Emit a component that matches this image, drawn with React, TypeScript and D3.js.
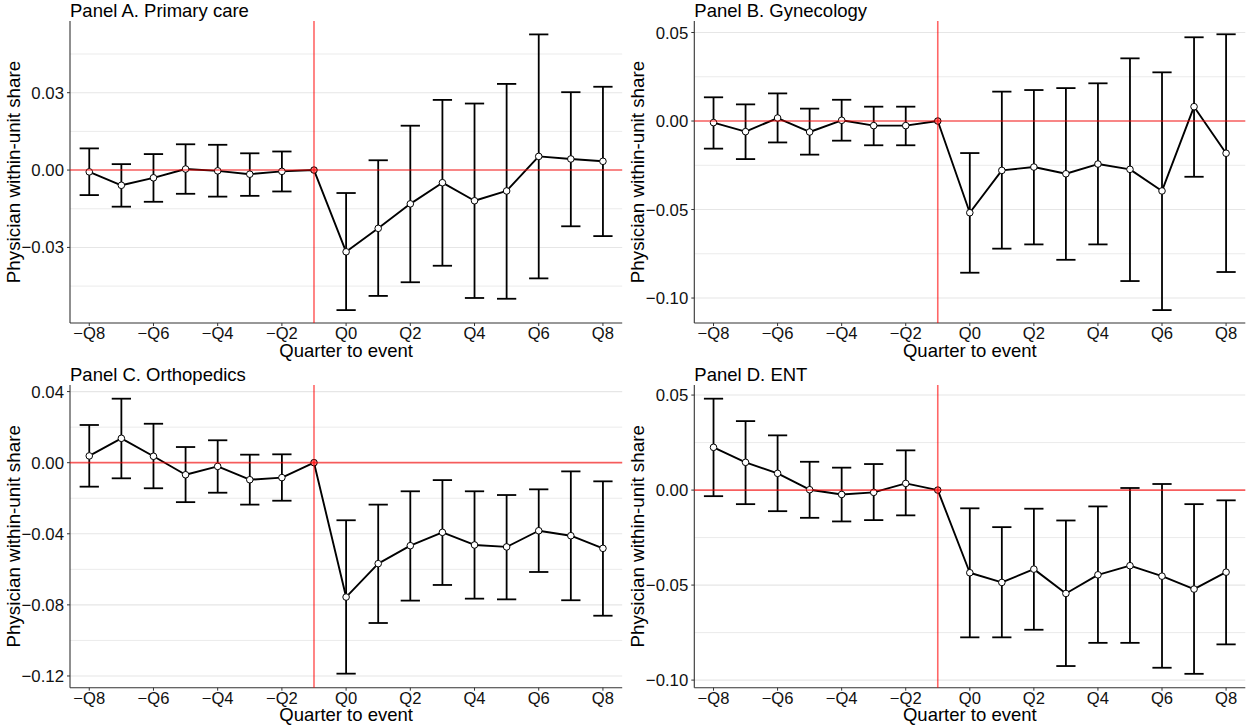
import React from "react";
import * as d3 from "d3";

const quarters = [-8, -7, -6, -5, -4, -3, -2, -1, 0, 1, 2, 3, 4, 5, 6, 7, 8];
const labeledQuarters = [-8, -6, -4, -2, 0, 2, 4, 6, 8];
const refQuarter = -1;

// Panel A. Primary care
const primaryEst = [-0.0007, -0.0059, -0.003, 0.0004, -0.0003, -0.0016, -0.0005, 0, -0.0317, -0.0226, -0.0131, -0.0049, -0.0119, -0.0081, 0.0053, 0.0043, 0.0034];
const primaryHi = [0.0084, 0.0023, 0.0062, 0.01, 0.0098, 0.0065, 0.0072, 0, -0.0089, 0.0038, 0.0172, 0.0272, 0.0258, 0.0334, 0.0526, 0.0302, 0.0323];
const primaryLo = [-0.0097, -0.0142, -0.0123, -0.0092, -0.0103, -0.01, -0.0083, 0, -0.0543, -0.0488, -0.0435, -0.0371, -0.0496, -0.0499, -0.042, -0.0218, -0.0256];

// Panel B. Gynecology
const gynEst = [-0.0009, -0.006, 0.0017, -0.0062, 0.0004, -0.0026, -0.0026, 0, -0.0518, -0.0279, -0.026, -0.0298, -0.0243, -0.0273, -0.0395, 0.0081, -0.0182];
const gynHi = [0.0134, 0.0094, 0.0156, 0.007, 0.012, 0.0081, 0.0081, 0, -0.0181, 0.0166, 0.0175, 0.0186, 0.0213, 0.0354, 0.0275, 0.0473, 0.049];
const gynLo = [-0.0156, -0.0215, -0.0121, -0.019, -0.0111, -0.0137, -0.0137, 0, -0.0857, -0.0721, -0.0697, -0.0784, -0.0697, -0.0904, -0.1068, -0.0315, -0.0853];

// Panel C. Orthopedics
const orthoEst = [0.0038, 0.0137, 0.0036, -0.0068, -0.0021, -0.0096, -0.0084, 0, -0.0756, -0.0568, -0.0467, -0.0392, -0.0463, -0.0474, -0.0383, -0.0411, -0.0482];
const orthoHi = [0.0212, 0.036, 0.0219, 0.0088, 0.0126, 0.0045, 0.0047, 0, -0.0324, -0.0236, -0.0161, -0.0098, -0.0161, -0.0182, -0.015, -0.0049, -0.0105];
const orthoLo = [-0.0135, -0.0088, -0.0144, -0.0222, -0.0169, -0.0236, -0.0214, 0, -0.1187, -0.0902, -0.0776, -0.0688, -0.0765, -0.0769, -0.0615, -0.0774, -0.0861];

// Panel D. ENT
const entEst = [0.0225, 0.0146, 0.0088, 0.0002, -0.0023, -0.0012, 0.0035, 0, -0.0435, -0.0486, -0.0416, -0.0544, -0.0446, -0.0398, -0.0453, -0.0521, -0.0432];
const entHi = [0.0481, 0.0363, 0.0288, 0.0149, 0.0118, 0.0137, 0.0209, 0, -0.0096, -0.0195, -0.0098, -0.016, -0.0086, 0.0011, 0.0032, -0.0074, -0.0054];
const entLo = [-0.0032, -0.0074, -0.0111, -0.0146, -0.0165, -0.0158, -0.0133, 0, -0.0775, -0.0775, -0.0735, -0.0926, -0.0804, -0.0804, -0.0935, -0.0967, -0.0812];

const primaryTicks = [-0.03, 0, 0.03];
const primaryMinor = [-0.045, -0.015, 0.015, 0.045];
const gynTicks = [-0.1, -0.05, 0, 0.05];
const gynMinor = [-0.075, -0.025, 0.025];
const orthoTicks = [-0.12, -0.08, -0.04, 0, 0.04];
const orthoMinor = [-0.1, -0.06, -0.02, 0.02];
const entTicks = [-0.1, -0.05, 0, 0.05];
const entMinor = [-0.075, -0.025, 0.025];

const FONT = "'Liberation Sans', Arial, Helvetica, sans-serif";

function qLabel(q: number) {
  return q < 0 ? "\u2212Q" + Math.abs(q) : "Q" + q;
}
function yLabel(v: number) {
  const s = Math.abs(v).toFixed(2);
  return v < 0 ? "\u2212" + s : s;
}

type PanelProps = {
  title: string;
  est: number[];
  hi: number[];
  lo: number[];
  domain: [number, number];
  ticks: number[];
  minor: number[];
  left: number;
  right: number;
  top: number;
  bottom: number;
};

function Panel(p: PanelProps) {
  const x = d3
    .scalePoint<number>()
    .domain(quarters)
    .range([p.left, p.right])
    .padding(0.6);
  const y = d3.scaleLinear().domain(p.domain).range([p.bottom, p.top]);
  const step = x.step();
  const cap = step * 0.3;
  const line = d3
    .line<number>()
    .x((_, i) => x(quarters[i]) as number)
    .y((d) => y(d));
  const midY = (p.top + p.bottom) / 2;
  const midX = (p.left + p.right) / 2;
  const red = "#ff0000";
  return (
    <g>
      <text x={p.left} y={p.top - 4} fontSize={18.5} fontFamily={FONT} fill="#000">
        {p.title}
      </text>
      {p.minor.map((v) => (
        <line key={"mi" + v} x1={p.left} x2={p.right} y1={y(v)} y2={y(v)} stroke="#ebebeb" strokeWidth={1} />
      ))}
      {p.ticks.map((v) => (
        <line key={"ma" + v} x1={p.left} x2={p.right} y1={y(v)} y2={y(v)} stroke="#e6e6e6" strokeWidth={1.1} />
      ))}
      <line x1={p.left} x2={p.left} y1={p.top} y2={p.bottom} stroke="#333" strokeWidth={1.1} />
      <line x1={p.left} x2={p.right} y1={p.bottom} y2={p.bottom} stroke="#333" strokeWidth={1.1} />
      {p.ticks.map((v) => (
        <g key={"yt" + v}>
          <line x1={p.left - 3} x2={p.left} y1={y(v)} y2={y(v)} stroke="#333" strokeWidth={1} />
          <text
            x={p.left - 6}
            y={y(v)}
            dy="0.36em"
            textAnchor="end"
            fontSize={16.8}
            fontFamily={FONT}
            fill="#111"
          >
            {yLabel(v)}
          </text>
        </g>
      ))}
      {labeledQuarters.map((q) => (
        <g key={"xt" + q}>
          <line x1={x(q)} x2={x(q)} y1={p.bottom} y2={p.bottom + 3} stroke="#333" strokeWidth={1} />
          <text
            x={x(q)}
            y={p.bottom + 16}
            textAnchor="middle"
            fontSize={16.6}
            fontFamily={FONT}
            fill="#111"
          >
            {qLabel(q)}
          </text>
        </g>
      ))}
      <text
        x={midX}
        y={p.bottom + 33.5}
        textAnchor="middle"
        fontSize={18.5}
        fontFamily={FONT}
        fill="#000"
      >
        Quarter to event
      </text>
      <text
        transform={`translate(${p.left - 50},${midY}) rotate(-90)`}
        textAnchor="middle"
        fontSize={18.8}
        fontFamily={FONT}
        fill="#000"
      >
        Physician within-unit share
      </text>
      {quarters.map((q, i) =>
        q === refQuarter ? null : (
          <g key={"eb" + q} stroke="#000" strokeWidth={1.8}>
            <line x1={x(q)} x2={x(q)} y1={y(p.hi[i])} y2={y(p.lo[i])} />
            <line x1={(x(q) as number) - cap} x2={(x(q) as number) + cap} y1={y(p.hi[i])} y2={y(p.hi[i])} />
            <line x1={(x(q) as number) - cap} x2={(x(q) as number) + cap} y1={y(p.lo[i])} y2={y(p.lo[i])} />
          </g>
        )
      )}
      <path d={line(p.est) || ""} fill="none" stroke="#000" strokeWidth={1.9} strokeLinejoin="round" />
      {quarters.map((q, i) => (
        <circle
          key={"pt" + q}
          cx={x(q)}
          cy={y(p.est[i])}
          r={3.3}
          fill={q === refQuarter ? "#ff8080" : "#fff"}
          stroke="#000"
          strokeWidth={1}
        />
      ))}
      <line x1={p.left} x2={p.right} y1={y(0)} y2={y(0)} stroke={red} strokeOpacity={0.6} strokeWidth={1.6} />
      <line
        x1={x(refQuarter)}
        x2={x(refQuarter)}
        y1={p.top}
        y2={p.bottom}
        stroke={red}
        strokeOpacity={0.6}
        strokeWidth={1.6}
      />
    </g>
  );
}

export default function App() {
  return (
    <svg
      width={1250}
      height={726}
      style={{ position: "absolute", left: 0, top: 0, background: "#fff" }}
    >
      <rect width={1250} height={726} fill="#fff" />
      <Panel
        title="Panel A. Primary care"
        est={primaryEst}
        hi={primaryHi}
        lo={primaryLo}
        domain={[-0.0593, 0.0578]}
        ticks={primaryTicks}
        minor={primaryMinor}
        left={70}
        right={622.2}
        top={21}
        bottom={323}
      />
      <Panel
        title="Panel B. Gynecology"
        est={gynEst}
        hi={gynHi}
        lo={gynLo}
        domain={[-0.1141, 0.0565]}
        ticks={gynTicks}
        minor={gynMinor}
        left={694.3}
        right={1245.3}
        top={21}
        bottom={323}
      />
      <Panel
        title="Panel C. Orthopedics"
        est={orthoEst}
        hi={orthoHi}
        lo={orthoLo}
        domain={[-0.1266, 0.0437]}
        ticks={orthoTicks}
        minor={orthoMinor}
        left={70}
        right={622.2}
        top={385}
        bottom={687.7}
      />
      <Panel
        title="Panel D. ENT"
        est={entEst}
        hi={entHi}
        lo={entLo}
        domain={[-0.104, 0.0553]}
        ticks={entTicks}
        minor={entMinor}
        left={694.3}
        right={1245.3}
        top={385}
        bottom={687.7}
      />
    </svg>
  );
}
